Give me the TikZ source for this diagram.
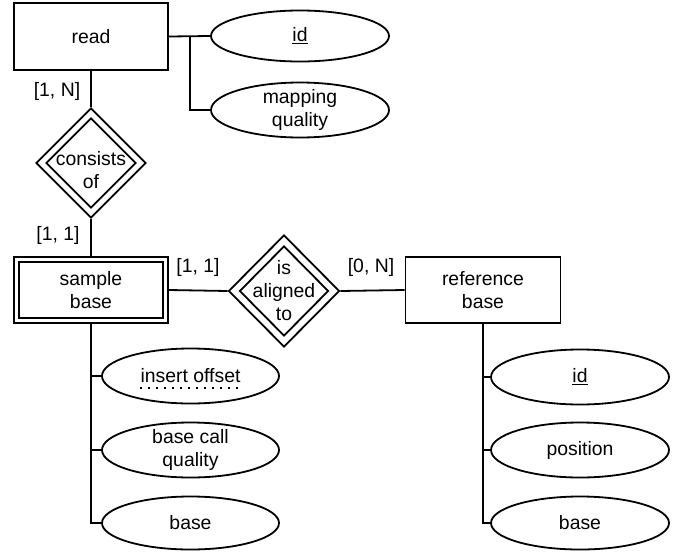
\documentclass[tikz,border=0pt]{standalone}
\usepackage{fontspec}
\setmainfont{Liberation Sans}
\usetikzlibrary{shapes.geometric}
\begin{document}
\begin{tikzpicture}[x=1pt,y=-1pt,
  every node/.style={font=\fontsize{19.4}{23}\selectfont},
  ln/.style={line width=1.8pt},
  ent/.style={draw, line width=1.8pt, rectangle, minimum width=154pt, minimum height=66pt, inner sep=0pt, align=center},
  attr/.style={draw, line width=1.8pt, ellipse, minimum width=178pt, minimum height=55pt, inner sep=0pt},
  rel/.style={draw, line width=1.8pt, diamond, inner sep=0pt},
  txt/.style={inner sep=0pt, align=center},
  card/.style={inner sep=0pt}
]
\useasboundingbox (0,0) rectangle (685,552);

% entities
\node[ent, minimum height=67pt] (read) at (91,36.5) {read};
\node[ent] (sb) at (91,290) {};
\node[draw, line width=1.8pt, minimum width=144pt, minimum height=56pt, inner sep=0pt] (sbi) at (sb) {};
\node[txt] (sbt) at (sb) {sample\\base};
\node[ent, minimum width=155pt] (rb) at (483,290) {reference\\base};

% relationships
\node[rel, minimum width=110pt, minimum height=110pt] (cons) at (91,163) {};
\node[rel, minimum width=90pt, minimum height=90pt] (consi) at (cons) {};
\node[txt] (const) at ([yshift=-7pt]cons.center) {consists\\of};
\node[rel, minimum width=111pt, minimum height=112pt] (al) at (284,291) {};
\node[rel, minimum width=89pt, minimum height=90pt] (ali) at (al) {};
\node[txt] (alt) at (al) {is\\aligned\\to};

% attributes of read
\node[attr, minimum height=51pt] (rid) at (300,36) {};
\node[txt] (ridt) at (rid) {\underline{id}};
\node[attr] (mq) at (300,110) {};
\node[txt] (mqt) at (mq) {mapping\\quality};

% attributes of sample base
\node[attr, minimum width=177pt] (io) at (190.5,376) {};
\node[txt] (iot) at (io) {insert offset};
\node[attr, minimum width=177pt] (bcq) at (190.5,450) {};
\node[txt] (bcqt) at (bcq) {base call\\quality};
\node[attr, minimum width=177pt, minimum height=53pt] (sbb) at (190.5,523) {};
\node[txt] (sbbt) at (sbb) {base};

% attributes of reference base
\node[attr] (rid2) at (580,377) {};
\node[txt] (rid2t) at (rid2) {\underline{id}};
\node[attr] (pos) at (580,450) {};
\node[txt] (post) at (pos) {position};
\node[attr, minimum height=53pt] (rbb) at (580,523) {};
\node[txt] (rbbt) at (rbb) {base};

% dotted underline (partial key)
\draw[line width=1.8pt, dash pattern=on 1.6pt off 6.4pt]
  ([yshift=-5pt]iot.base west) -- ([yshift=-5pt]iot.base east);

% cardinalities
\node[card] (c1) at (57,91) {[1, N]};
\node[card] (c2) at (58,235) {[1, 1]};
\node[card] (c3) at (198,267) {[1, 1]};
\node[card] (c4) at (371,267) {[0, N]};

% connectors
\coordinate (b1) at (190,36.5);
\draw[ln] (read.east) -- (rid.west);
\draw[ln] (b1) |- (mq.west);
\draw[ln] (read.south) -- (cons.north);
\draw[ln] (cons.south) -- (sb.north);
\draw[ln] (sb.east) -- (al.west);
\draw[ln] (al.east) -- (rb.west);
\draw[ln] (sb.south) |- (io.west);
\draw[ln] (sb.south) |- (bcq.west);
\draw[ln] (sb.south) |- (sbb.west);
\draw[ln] (rb.south) |- (rid2.west);
\draw[ln] (rb.south) |- (pos.west);
\draw[ln] (rb.south) |- (rbb.west);
\end{tikzpicture}
\end{document}
